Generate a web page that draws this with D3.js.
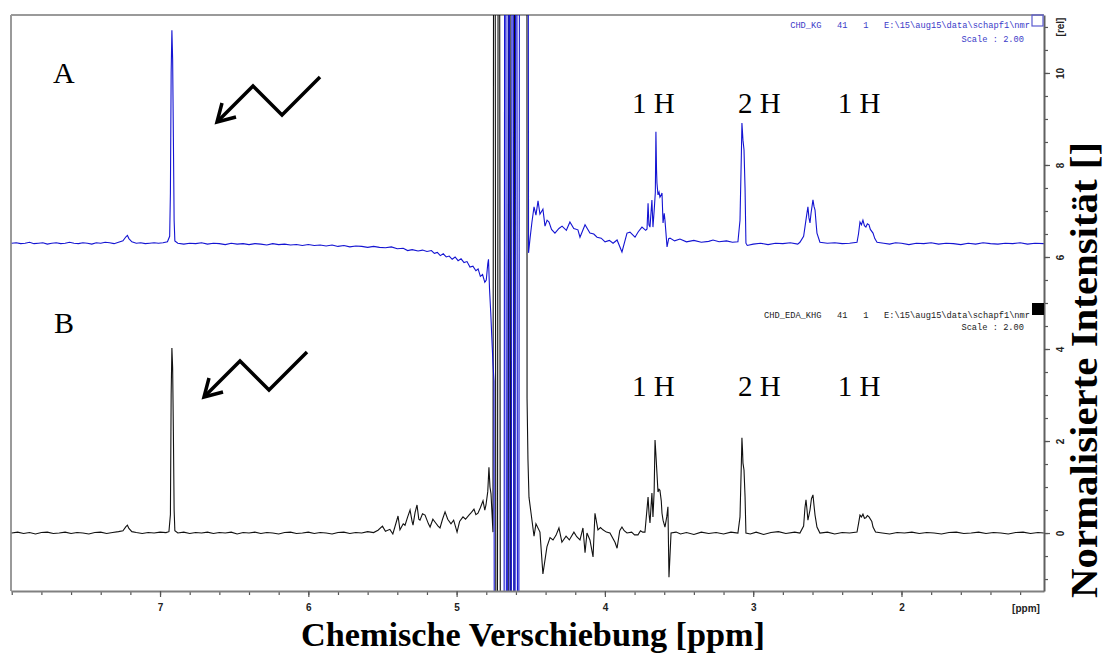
<!DOCTYPE html>
<html>
<head>
<meta charset="utf-8">
<script src="https://cdn.jsdelivr.net/npm/d3@7"></script>
<style>
body { margin: 0; background: #fff; }
</style>
</head>
<body>
<svg id="nmr"></svg>
<script>
/*
 1H-NMR Spektren A (blau) und B (schwarz)
 [ppm, rel. Intensität]
*/
const spectrumA = [
  [8.00,6.30],[7.97,6.31],[7.94,6.29],[7.91,6.30],[7.88,6.32],[7.85,6.29],[7.82,6.30],[7.79,6.31],
  [7.76,6.28],[7.73,6.30],[7.70,6.31],[7.67,6.29],[7.64,6.30],[7.61,6.32],[7.58,6.30],[7.55,6.29],
  [7.52,6.31],[7.49,6.30],[7.46,6.28],[7.43,6.31],[7.40,6.30],[7.37,6.32],[7.34,6.31],[7.31,6.29],
  [7.28,6.32],[7.25,6.35],[7.23,6.44],[7.22,6.47],[7.21,6.40],[7.19,6.33],[7.16,6.30],[7.13,6.31],
  [7.10,6.29],[7.07,6.30],[7.04,6.31],[7.01,6.30],[6.98,6.31],[6.95,6.33],[6.935,6.45],[6.93,7.4],
  [6.925,10.0],[6.92,10.93],[6.915,10.3],[6.91,8.6],[6.905,6.8],[6.90,6.35],[6.88,6.30],[6.84,6.28],
  [6.80,6.30],[6.76,6.29],[6.72,6.31],[6.68,6.28],[6.64,6.30],[6.60,6.29],[6.56,6.27],[6.52,6.30],
  [6.48,6.28],[6.44,6.29],[6.40,6.27],[6.36,6.29],[6.32,6.28],[6.28,6.26],[6.24,6.29],[6.20,6.27],
  [6.16,6.28],[6.12,6.26],[6.08,6.27],[6.04,6.25],[6.00,6.27],[5.96,6.25],[5.92,6.26],[5.88,6.24],
  [5.84,6.26],[5.80,6.23],[5.76,6.25],[5.72,6.22],[5.68,6.24],[5.64,6.23],[5.60,6.21],[5.56,6.23],
  [5.52,6.21],[5.48,6.20],[5.44,6.22],[5.40,6.18],[5.36,6.19],[5.33,6.14],[5.30,6.16],[5.26,6.13],
  [5.23,6.15],[5.20,6.12],[5.17,6.14],[5.15,6.08],[5.13,6.10],[5.11,6.03],[5.09,6.07],[5.07,6.00],
  [5.05,6.02],[5.03,5.95],[5.01,6.00],[4.99,5.92],[4.97,5.96],[4.95,5.88],[4.93,5.90],[4.91,5.78],
  [4.89,5.80],[4.87,5.70],[4.855,5.74],[4.84,5.58],[4.825,5.62],[4.81,5.45],[4.80,5.50],[4.79,5.85],
  [4.785,5.95],[4.778,5.30],[4.77,4.80],[4.762,4.20],[4.755,3.70],[4.748,3.30],
  // Wassersignal
  [4.74,-20],[4.684,-20],[4.672,30],[4.66,-20],[4.648,30],[4.636,-20],[4.622,30],[4.61,-20],
  [4.598,30],[4.585,-20],[4.572,30],[4.522,30],
  [4.515,6.09],[4.505,6.40],[4.492,6.76],[4.478,7.09],[4.465,6.91],[4.451,7.22],[4.438,6.93],[4.418,7.04],
  [4.404,6.67],[4.39,6.80],[4.377,6.76],[4.36,6.60],[4.337,6.52],[4.31,6.62],[4.289,6.67],
  [4.26,6.58],[4.236,6.76],[4.21,6.62],[4.182,6.59],[4.168,6.43],[4.134,6.70],[4.101,6.52],
  [4.075,6.50],[4.053,6.43],[4.025,6.41],[3.999,6.33],[3.97,6.36],[3.945,6.30],[3.918,6.37],
  [3.885,6.11],[3.851,6.52],[3.831,6.54],[3.797,6.43],[3.775,6.55],[3.750,6.65],[3.725,6.58],
  [3.716,6.61],[3.709,7.17],[3.703,6.70],[3.696,6.65],[3.683,7.24],[3.676,6.65],[3.668,7.0],
  [3.66,7.4],[3.656,8.72],[3.652,7.9],[3.649,7.61],[3.642,7.35],[3.635,7.41],[3.629,7.30],
  [3.62,7.35],[3.615,7.39],[3.608,6.74],[3.60,6.95],[3.595,6.80],[3.581,6.22],[3.57,6.40],
  [3.561,6.41],[3.53,6.35],[3.494,6.39],[3.45,6.33],[3.40,6.36],[3.35,6.32],[3.30,6.34],
  [3.271,6.37],[3.23,6.33],[3.18,6.35],[3.14,6.32],[3.103,6.33],[3.089,6.80],[3.08,8.2],
  [3.076,8.91],[3.072,8.7],[3.069,8.54],[3.062,8.33],[3.055,7.5],[3.049,6.30],[3.04,6.25],
  [3.00,6.28],[2.95,6.30],[2.90,6.27],[2.85,6.30],[2.80,6.29],[2.75,6.31],[2.70,6.28],
  [2.685,6.32],[2.66,6.45],[2.651,6.65],[2.64,6.9],[2.631,7.09],[2.624,6.85],[2.617,6.74],
  [2.61,6.95],[2.597,7.24],[2.59,7.1],[2.583,7.02],[2.575,6.7],[2.570,6.52],[2.55,6.32],
  [2.50,6.30],[2.45,6.31],[2.40,6.29],[2.35,6.30],[2.30,6.32],[2.29,6.50],[2.28,6.76],
  [2.27,6.70],[2.26,6.80],[2.25,6.68],[2.24,6.65],[2.23,6.72],[2.219,6.70],[2.21,6.60],
  [2.192,6.52],[2.18,6.40],[2.165,6.32],[2.12,6.30],[2.08,6.28],[2.04,6.31],[2.00,6.30],
  [1.95,6.27],[1.90,6.30],[1.85,6.29],[1.80,6.31],[1.75,6.28],[1.70,6.30],[1.65,6.29],
  [1.60,6.27],[1.55,6.30],[1.50,6.28],[1.45,6.31],[1.40,6.29],[1.35,6.28],[1.30,6.30],
  [1.25,6.29],[1.20,6.31],[1.15,6.28],[1.10,6.30],[1.04,6.29]
];

const spectrumB = [
  [8.00,0.00],[7.96,0.02],[7.92,-0.01],[7.88,0.01],[7.84,-0.02],[7.80,0.01],[7.76,0.02],[7.72,-0.01],
  [7.68,0.00],[7.64,0.02],[7.60,-0.01],[7.56,0.01],[7.52,0.00],[7.48,-0.02],[7.44,0.01],[7.40,0.02],
  [7.36,-0.01],[7.32,0.01],[7.28,0.03],[7.25,0.05],[7.23,0.14],[7.22,0.17],[7.21,0.10],[7.19,0.03],
  [7.16,0.01],[7.12,-0.01],[7.08,0.01],[7.04,0.00],[7.00,0.02],[6.96,0.01],[6.94,0.03],[6.93,0.4],
  [6.925,3.0],[6.92,4.02],[6.915,3.6],[6.91,2.2],[6.905,0.5],[6.90,0.05],[6.88,0.00],[6.84,0.02],
  [6.80,-0.01],[6.76,0.01],[6.72,0.00],[6.68,0.02],[6.64,-0.01],[6.60,0.01],[6.56,0.00],[6.52,0.02],
  [6.48,-0.02],[6.44,0.01],[6.40,0.00],[6.36,0.02],[6.32,-0.01],[6.28,0.01],[6.24,0.00],[6.20,-0.02],
  [6.16,0.01],[6.12,0.02],[6.08,-0.01],[6.04,0.00],[6.00,0.02],[5.96,-0.01],[5.92,0.01],[5.88,0.00],
  [5.84,-0.02],[5.80,0.01],[5.76,0.02],[5.72,-0.01],[5.68,0.01],[5.64,0.00],[5.60,0.03],[5.56,0.01],
  [5.53,0.06],[5.50,0.15],[5.48,0.04],[5.45,0.08],[5.43,-0.02],[5.395,0.37],[5.382,0.07],[5.36,0.20],
  [5.348,0.17],[5.33,0.35],[5.314,0.50],[5.30,0.25],[5.294,0.17],[5.28,0.45],[5.267,0.61],[5.255,0.30],
  [5.247,0.28],[5.23,0.42],[5.213,0.39],[5.19,0.20],[5.179,0.13],[5.16,0.30],[5.146,0.24],[5.125,0.15],
  [5.112,0.11],[5.095,0.30],[5.078,0.46],[5.06,0.30],[5.038,0.20],[5.02,0.28],[4.997,0.02],[4.98,0.25],
  [4.957,0.35],[4.94,0.30],[4.917,0.39],[4.90,0.45],[4.883,0.52],[4.87,0.40],[4.856,0.43],[4.84,0.55],
  [4.822,0.70],[4.81,0.50],[4.802,0.61],[4.79,0.90],[4.782,1.43],[4.775,1.0],[4.768,0.85],[4.755,0.02],
  // Wassersignal
  [4.745,30],[4.73,-20],[4.715,30],[4.70,-20],[4.656,-20],[4.645,30],[4.63,-20],[4.617,-20],
  [4.605,30],[4.527,30],
  [4.525,2.93],[4.519,1.61],[4.512,0.78],[4.498,0.43],[4.478,-0.07],[4.465,0.20],[4.438,0.02],
  [4.418,-0.89],[4.391,-0.30],[4.37,-0.10],[4.350,-0.15],[4.33,-0.05],[4.310,0.11],[4.29,-0.20],
  [4.262,-0.07],[4.24,-0.15],[4.209,0.02],[4.19,-0.08],[4.168,-0.15],[4.148,0.11],[4.134,-0.43],
  [4.121,0.00],[4.101,-0.15],[4.080,-0.52],[4.067,0.43],[4.047,0.07],[4.03,0.12],[4.013,0.07],
  [3.99,0.02],[3.966,0.00],[3.932,-0.20],[3.918,-0.33],[3.90,0.05],[3.885,0.13],[3.87,0.05],
  [3.851,0.00],[3.82,0.02],[3.80,-0.04],[3.777,-0.04],[3.76,0.05],[3.745,0.02],[3.730,0.02],
  [3.709,0.78],[3.702,0.40],[3.696,0.22],[3.683,0.87],[3.676,0.35],[3.668,0.9],[3.662,2.02],
  [3.656,1.7],[3.649,1.30],[3.642,0.89],[3.635,0.95],[3.629,0.93],[3.62,0.7],[3.615,0.43],
  [3.608,0.28],[3.595,0.13],[3.583,0.35],[3.575,0.57],[3.568,-0.96],[3.554,0.00],[3.52,0.02],
  [3.49,-0.02],[3.45,0.01],[3.40,-0.03],[3.35,0.02],[3.30,-0.01],[3.25,0.01],[3.20,-0.02],
  [3.15,0.02],[3.103,0.00],[3.089,0.35],[3.08,1.5],[3.076,2.07],[3.072,1.8],[3.069,1.52],
  [3.062,1.37],[3.055,0.8],[3.049,0.00],[3.02,-0.02],[2.98,0.02],[2.93,-0.03],[2.88,0.01],
  [2.83,0.03],[2.78,-0.01],[2.72,0.02],[2.685,0.00],[2.66,0.15],[2.651,0.55],[2.644,0.72],
  [2.637,0.50],[2.631,0.28],[2.617,0.50],[2.607,0.75],[2.597,0.83],[2.59,0.60],[2.583,0.39],
  [2.57,0.13],[2.55,0.00],[2.50,0.02],[2.45,-0.02],[2.40,0.01],[2.35,0.00],[2.30,0.02],
  [2.29,0.20],[2.28,0.39],[2.27,0.35],[2.26,0.41],[2.25,0.32],[2.24,0.33],[2.23,0.38],
  [2.219,0.35],[2.20,0.25],[2.192,0.13],[2.175,0.02],[2.13,0.00],[2.08,-0.02],[2.03,0.01],
  [1.98,0.00],[1.93,0.02],[1.88,-0.01],[1.83,0.01],[1.78,0.00],[1.73,-0.02],[1.68,0.01],
  [1.63,0.02],[1.58,-0.01],[1.53,0.00],[1.48,0.02],[1.43,-0.01],[1.38,0.01],[1.33,0.00],
  [1.28,-0.02],[1.23,0.01],[1.18,0.02],[1.13,-0.01],[1.08,0.01],[1.04,0.00]
];

// Achsenbeschriftung
const ppmLabels = [7, 6, 5, 4, 3, 2];
const relLabels = [0, 2, 4, 6, 8, 10];
const protonLabels = ["1 H", "2 H", "1 H"];
const protonShifts = [3.673, 2.958, 2.286];
const headerA = ["CHD_KG   41   1   E:\\15\\aug15\\data\\schapf1\\nmr", "Scale : 2.00"];
const headerB = ["CHD_EDA_KHG   41   1   E:\\15\\aug15\\data\\schapf1\\nmr", "Scale : 2.00"];

var width = 1107, height = 658;
var plot = {left: 11, right: 1044, top: 15, bottom: 591};

const svg = d3.select("#nmr")
  .attr("width", width)
  .attr("height", height)
  .style("font-family", "'Liberation Sans', Arial, sans-serif");

svg.append("rect").attr("width", width).attr("height", height).attr("fill", "#fff");

const x = d3.scaleLinear().domain([8.005, 1.039]).range([plot.left, plot.right]);
const y = d3.scaleLinear().domain([-1.26, 11.26]).range([plot.bottom, plot.top]);

svg.append("clipPath").attr("id", "clip")
  .append("rect")
  .attr("x", plot.left).attr("y", plot.top)
  .attr("width", plot.right - plot.left).attr("height", plot.bottom - plot.top);

//rahmen
svg.append("line").attr("x1", plot.left).attr("x2", plot.right).attr("y1", plot.top).attr("y2", plot.top)
  .attr("stroke", "#9a9a9a").attr("stroke-width", 2);
svg.append("line").attr("x1", plot.left).attr("x2", plot.left).attr("y1", plot.top).attr("y2", plot.bottom)
  .attr("stroke", "#9a9a9a").attr("stroke-width", 2);

const line = d3.line().x(d => x(d[0])).y(d => y(d[1]));

const spectra = svg.append("g").attr("clip-path", "url(#clip)");
spectra.append("path").datum(spectrumB)
  .attr("d", line).attr("fill", "none").attr("stroke", "#111").attr("stroke-width", 1.1);
spectra.append("path").datum(spectrumA)
  .attr("d", line).attr("fill", "none").attr("stroke", "#1414d2").attr("stroke-width", 1.1);

// x achse
const minorPpm = d3.range(12, 81, 2).map(v => v / 10);
svg.append("g").attr("transform", `translate(0,${plot.bottom})`)
  .call(d3.axisBottom(x).tickValues(minorPpm).tickSize(4).tickFormat(""))
  .call(g => g.select(".domain").remove())
  .call(g => g.selectAll("line").attr("stroke", "#555").attr("stroke-width", 1.2));
const xAxis = svg.append("g").attr("transform", `translate(0,${plot.bottom})`)
  .call(d3.axisBottom(x).tickValues(ppmLabels).tickSize(6).tickSizeOuter(0).tickPadding(7).tickFormat(d3.format("d")));
xAxis.select(".domain").attr("stroke", "#808080").attr("stroke-width", 2);
xAxis.selectAll("line").attr("stroke", "#555").attr("stroke-width", 1.2);
xAxis.selectAll("text").attr("font-size", 10).attr("font-weight", "bold").attr("fill", "#222");

svg.append("text").attr("x", 1026).attr("y", 612).attr("text-anchor", "middle")
  .attr("font-size", 10).attr("font-weight", "bold").attr("fill", "#222").text("[ppm]");

// y achse rechts
const minorRel = d3.range(-2, 23).map(v => v / 2);
svg.append("g").attr("transform", `translate(${plot.right},0)`)
  .call(d3.axisRight(y).tickValues(minorRel).tickSize(4).tickFormat(""))
  .call(g => g.select(".domain").remove())
  .call(g => g.selectAll("line").attr("stroke", "#555").attr("stroke-width", 1.2));
const yAxis = svg.append("g").attr("transform", `translate(${plot.right},0)`)
  .call(d3.axisRight(y).tickValues(relLabels).tickSize(6).tickSizeOuter(0).tickFormat(d3.format("d")));
yAxis.select(".domain").attr("stroke", "#606060").attr("stroke-width", 2);
yAxis.selectAll("line").attr("stroke", "#555").attr("stroke-width", 1.2);
yAxis.selectAll("text")
  .attr("x", null).attr("dy", null)
  .attr("transform", "translate(16,0) rotate(-90)")
  .attr("text-anchor", "middle").attr("dominant-baseline", "central")
  .attr("font-size", 10).attr("font-weight", "bold").attr("fill", "#222");

svg.append("text").attr("transform", "translate(1060,27) rotate(-90)")
  .attr("text-anchor", "middle").attr("dominant-baseline", "central")
  .attr("font-size", 10).attr("font-weight", "bold").attr("fill", "#222").text("[rel]");

// kopfzeilen der spektren
const mono = "'Liberation Mono', 'DejaVu Sans Mono', monospace";
svg.append("g").selectAll("text").data(headerA).enter().append("text")
  .attr("x", (d, i) => i ? 1024 : 1030).attr("y", (d, i) => i ? 42 : 28)
  .attr("text-anchor", "end").attr("font-family", mono).attr("font-size", 8.7)
  .attr("fill", "#3a3ac8").style("white-space", "pre").text(d => d);
svg.append("rect").attr("x", 1032).attr("y", 15).attr("width", 11).attr("height", 11)
  .attr("fill", "none").attr("stroke", "#5a5ad0").attr("stroke-width", 1.2);

svg.append("g").selectAll("text").data(headerB).enter().append("text")
  .attr("x", (d, i) => i ? 1024 : 1030).attr("y", (d, i) => i ? 330 : 318)
  .attr("text-anchor", "end").attr("font-family", mono).attr("font-size", 8.7)
  .attr("fill", "#222").style("white-space", "pre").text(d => d);
svg.append("rect").attr("x", 1032).attr("y", 303).attr("width", 12).attr("height", 12).attr("fill", "#000");

// beschriftung A / B
const serif = "'Liberation Serif', 'Times New Roman', serif";
svg.append("text").attr("x", 53).attr("y", 83).attr("font-family", serif).attr("font-size", 30).text("A");
svg.append("text").attr("x", 54).attr("y", 333).attr("font-family", serif).attr("font-size", 30).text("B");

[113, 396].forEach(base => {
  svg.append("g").selectAll("text").data(protonLabels).enter().append("text")
    .attr("x", (d, i) => x(protonShifts[i])).attr("y", base)
    .attr("text-anchor", "middle").attr("font-family", serif).attr("font-size", 29)
    .style("white-space", "pre").text(d => d);
});

// pfeile
function arrow(dx, dy) {
  const g = svg.append("g").attr("transform", `translate(${dx},${dy})`)
    .attr("fill", "none").attr("stroke", "#000").attr("stroke-width", 3.5).attr("stroke-linejoin", "miter");
  g.append("path").attr("d", "M320,77 L282,115 L253,86 L218,121");
  g.append("path").attr("d", "M236,117 L217,122 L222,103");
}
arrow(0, 0);
arrow(-13, 275);

// titel
svg.append("text").attr("x", 533).attr("y", 646).attr("text-anchor", "middle")
  .attr("font-family", serif).attr("font-weight", "bold").attr("font-size", 33)
  .attr("textLength", 464).attr("lengthAdjust", "spacingAndGlyphs")
  .text("Chemische Verschiebung [ppm]");
svg.append("text").attr("transform", "translate(1097,370) rotate(-90)").attr("text-anchor", "middle")
  .attr("font-family", serif).attr("font-weight", "bold").attr("font-size", 38)
  .attr("textLength", 456).attr("lengthAdjust", "spacingAndGlyphs")
  .text("Normalisierte Intensität []");
</script>
</body>
</html>
